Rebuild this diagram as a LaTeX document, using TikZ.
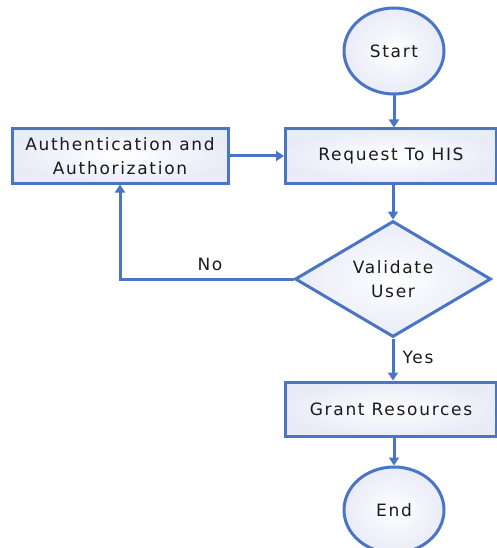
\documentclass[tikz,border=0pt]{standalone}
\usepackage{fontspec}
\setmainfont{DejaVu Sans}[LetterSpace=10]
\usetikzlibrary{shapes.geometric,arrows.meta}
\definecolor{flowblue}{HTML}{4A74C4}
\definecolor{flowfill}{HTML}{E9EBF7}
\definecolor{flowtext}{HTML}{1A1A1A}
\tikzset{
  x=1pt, y=-1pt,
  every node/.style={text=flowtext, font=\fontsize{17}{24}\selectfont},
  procbox/.style={draw=flowblue, line width=3pt, inner color=white, outer color=flowfill,
    minimum height=54pt, align=center, inner sep=0pt},
  termnode/.style={ellipse, draw=flowblue, line width=3pt, inner color=white, outer color=flowfill,
    minimum width=100pt, minimum height=86pt, inner sep=0pt},
  decnode/.style={diamond, draw=flowblue, line width=3pt, inner color=white, outer color=flowfill,
    minimum width=196pt, minimum height=116pt, aspect=1.7, align=center, inner sep=0pt},
  flow/.style={draw=flowblue, line width=3pt, -{Triangle[width=10pt,length=8pt]}},
}
\begin{document}
\begin{tikzpicture}
\useasboundingbox (0,0) rectangle (497,548);
\begin{scope}
\clip (0,0) rectangle (497,548);
\node[termnode] (start) at (394,51) {Start};
\node[procbox, minimum width=211pt] (req) at (391,156) {Request To HIS};
\node[procbox, minimum width=216pt] (auth) at (120,156) {Authentication and\\Authorization};
\node[decnode] (val) at (393,279) {Validate\\User};
\node[procbox, minimum width=211pt] (grant) at (391,409) {Grant Resources};
\node[termnode] (end) at (394,510) {End};
\coordinate (corner) at (auth.south |- val.west);

\draw[flow] (start.south) -- (start.south |- req.north);
\draw[flow] (auth.east) -- (req.west);
\draw[flow] (req.south -| val.north) -- (val.north);
\draw[flow] (val.west) -- (corner) -- (auth.south);
\draw[flow] (val.south) -- (val.south |- grant.north);
\draw[flow] (grant.south -| end.north) -- (end.north);
\node at (210,264) {No};
\node at (418,357) {Yes};
\end{scope}
\end{tikzpicture}
\end{document}
